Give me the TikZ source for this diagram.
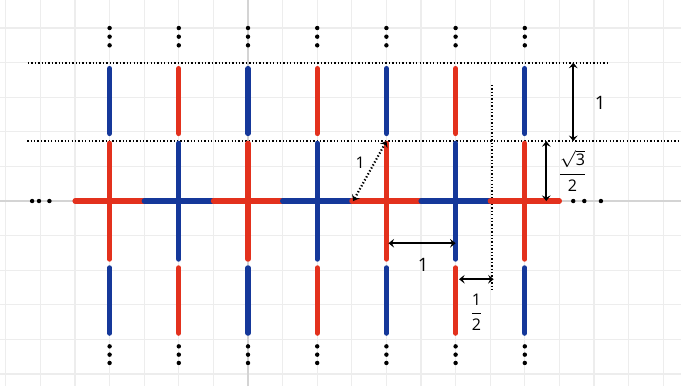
\documentclass[tikz,border=0pt]{standalone}
\usepackage{fontspec}
\setmainfont{Open Sans}
\usetikzlibrary{arrows.meta, positioning, calc}
\definecolor{cred}{HTML}{E3311D}
\definecolor{cblue}{HTML}{15389A}
\definecolor{cgrid}{HTML}{EDEDED}
\definecolor{caxis}{HTML}{D4D4D4}
\tikzset{
  every picture/.style={line width=0.8pt},
  bar/.style={draw=#1, line width=2.1pt, line cap=round},
  bar/.default=cred,
  gridline/.style={draw=cgrid, line width=0.45pt},
  dotline/.style={line width=0.9pt, dash pattern=on 0.55pt off 0.85pt},
  dimarrow/.style={{Stealth[length=2.3pt, width=3.6pt, inset=0.9pt]}-{Stealth[length=2.3pt, width=3.6pt, inset=0.9pt]}, line width=0.8pt},
  lbl/.style={font=\fontsize{7.6}{9}\selectfont, inner sep=1pt},
  frac/.style={font=\fontsize{6.6}{8}\selectfont, inner sep=1pt},
}

\begin{document}
\begin{tikzpicture}
  \useasboundingbox (-3.584,-2.673) rectangle (6.257,2.905);
  % background grid
  \draw[gridline, step=0.5] (-3.584,-2.673) grid (6.257,2.905);
  \draw[gridline, draw=caxis] (-3.584,0) -- (6.257,0);
  \draw[gridline, draw=caxis] (0,-2.673) -- (0,2.905);
  % dotted guides
  \draw[dotline] (-3.18,2) -- (5.23,2);
  \draw[dotline] (-3.19,0.866) -- (6.257,0.866);
  \draw[dotline] (3.52,1.68) -- (3.52,-1.31);
  % horizontal chain
  \foreach \x/\mc in {-2/cred, -1/cblue, 0/cred, 1/cblue, 2/cred, 3/cblue, 4/cred}
    \draw[bar=\mc] (\x-0.5,0) -- (\x+0.5,0);
  % columns
  \foreach \x/\mc/\oc in {-2/cred/cblue, -1/cblue/cred, 0/cred/cblue, 1/cblue/cred, 2/cred/cblue, 3/cblue/cred, 4/cred/cblue} {
    \draw[bar=\mc] (\x,0.835) -- (\x,-0.84);
    \draw[bar=\oc] (\x,1.915) -- (\x,0.975);
    \draw[bar=\oc] (\x,-0.965) -- (\x,-1.91);
    \foreach \y in {2.5,2.375,2.25,-2.1,-2.22,-2.34}
      \fill (\x,\y) circle (0.032);
  }
  \foreach \x in {-3.12,-3.02,-2.87,4.70,4.86,5.10}
    \fill (\x,0) circle (0.032);
  % dimensions
  \coordinate (va) at (4.70,2);
  \coordinate (vb) at (4.70,0.866);
  \draw[dimarrow] (va) -- (vb);
  \node[lbl] (vlab) at (5.09,1.42) {1};
  \coordinate (ra) at (4.31,0.866);
  \coordinate (rb) at (4.31,0);
  \draw[dimarrow] (ra) -- (rb);
  \node[frac] (rlab) at (4.69,0.44) {$\displaystyle\frac{\sqrt{\mbox{3}}}{\mbox{2}}$};
  \coordinate (da) at (1.52,0);
  \coordinate (db) at (2,0.866);
  \draw[dimarrow, dotline] (da) -- (db);
  \node[frac] (dlab) at (1.62,0.55) {1};
  \coordinate (ha) at (2.03,-0.61);
  \coordinate (hb) at (3.0,-0.61);
  \draw[dimarrow] (ha) -- (hb);
  \node[lbl] (hlab) at (2.53,-0.92) {1};
  \coordinate (qa) at (3.05,-1.13);
  \coordinate (qb) at (3.55,-1.13);
  \draw[dimarrow] (qa) -- (qb);
  \node[frac] (qlab) at (3.30,-1.61) {$\displaystyle\frac{\mbox{1}}{\mbox{2}}$};
\end{tikzpicture}
\end{document}
